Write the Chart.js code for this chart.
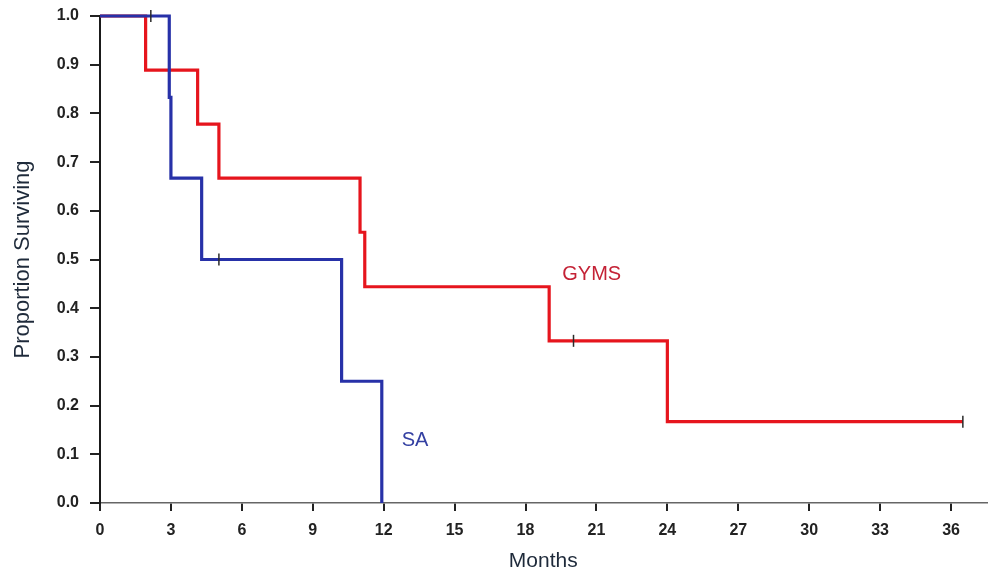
<!DOCTYPE html>
<html><head><meta charset="utf-8">
<script src="https://cdn.jsdelivr.net/npm/chart.js@4.4.1/dist/chart.umd.min.js"></script>
<style>html,body{margin:0;padding:0;background:#fff;} #wrap{width:994px;height:579px;}</style>
</head><body><div id="wrap"><canvas id="c" width="994" height="579"></canvas></div>
<script>
// ---- data ----
const gymsTimes = [0, 1.93, 4.13, 5.03, 11.0, 11.2, 19.0, 24.0, 36.5];
const gymsSurv  = [1.0, 0.889, 0.778, 0.667, 0.556, 0.444, 0.333, 0.167, 0.167];
const saTimes   = [0, 2.93, 3.0, 4.3, 10.22, 11.92];
const saSurv    = [1.0, 0.833, 0.667, 0.5, 0.25, 0.0];
const gymsCensorTimes = [20.03, 36.5];
const gymsCensorSurv  = [0.333, 0.167];
const saCensorTimes   = [2.15, 5.03];
const saCensorSurv    = [1.0, 0.5];
const xTickValues = [0, 3, 6, 9, 12, 15, 18, 21, 24, 27, 30, 33, 36];
const yTickValues = [0, 0.1, 0.2, 0.3, 0.4, 0.5, 0.6, 0.7, 0.8, 0.9, 1.0];
const seriesNames = ['GYMS', 'SA'];
const xTitle = 'Months';
const yTitle = 'Proportion Surviving';

const toPts = (t, s) => t.map((v, i) => ({x: v, y: s[i]}));
const censorPts = toPts(gymsCensorTimes, gymsCensorSurv).concat(toPts(saCensorTimes, saCensorSurv));

const RED = '#e6151d', BLUE = '#2731a8';

const seriesText = {
  id: 'seriesText',
  afterDatasetsDraw(chart, args, opts) {
    const {ctx, scales: {x, y}} = chart;
    opts.items.forEach(it => {
      ctx.save();
      ctx.font = '20px "Liberation Sans", Arial, sans-serif';
      ctx.fillStyle = it.color;
      ctx.textAlign = 'center';
      ctx.textBaseline = 'middle';
      ctx.fillText(it.text, x.getPixelForValue(it.x), y.getPixelForValue(it.y));
      ctx.restore();
    });
  }
};

new Chart(document.getElementById('c'), {
  type: 'scatter',
  data: {
    datasets: [
      {label: 'censored', data: censorPts, showLine: false, pointStyle: 'line', rotation: 90,
       pointRadius: 6, pointHoverRadius: 6, borderColor: '#2a2a2a', pointBorderWidth: 1.5, borderWidth: 1.5, clip: false, order: 0},
      {label: seriesNames[1], data: toPts(saTimes, saSurv), showLine: true, stepped: true,
       borderColor: BLUE, borderWidth: 3.2, pointRadius: 0, fill: false, clip: 4, order: 1},
      {label: seriesNames[0], data: toPts(gymsTimes, gymsSurv), showLine: true, stepped: true,
       borderColor: RED, borderWidth: 3.2, pointRadius: 0, fill: false, clip: 4, order: 2}
    ]
  },
  options: {
    responsive: false, animation: false,
    layout: {padding: {top: 16, right: 0, left: 0, bottom: 0}},
    plugins: {
      legend: {display: false}, tooltip: {enabled: false},
      seriesText: {items: [
        {text: seriesNames[0], color: '#c42236', x: 20.8, y: 0.47},
        {text: seriesNames[1], color: '#3440a2', x: 13.33, y: 0.129}
      ]}
    },
    scales: {
      x: {
        type: 'linear', min: 0, max: 37.5,
        afterBuildTicks: s => { s.ticks = xTickValues.map(v => ({value: v})); },
        afterFit: s => { s.height = 76; },
        ticks: {color: '#222', padding: 10, maxRotation: 0, autoSkip: false,
                font: {family: '"Liberation Sans", Arial, sans-serif', size: 16, weight: 'bold'}},
        grid: {drawOnChartArea: false, drawTicks: true, tickLength: 8, color: '#222', lineWidth: 2},
        border: {color: '#666', width: 1.5},
        title: {display: true, text: xTitle, color: '#1e2a3a', padding: {top: 0, bottom: 5},
                font: {family: '"Liberation Sans", Arial, sans-serif', size: 21}}
      },
      y: {
        type: 'linear', min: 0, max: 1,
        afterBuildTicks: s => { s.ticks = yTickValues.map(v => ({value: v})); },
        afterFit: s => { s.width = 100; s.paddingTop = 0; s.paddingBottom = 0; },
        ticks: {color: '#222', padding: 11, callback: v => Number(v).toFixed(1),
                font: {family: '"Liberation Sans", Arial, sans-serif', size: 16, weight: 'bold'}},
        grid: {drawOnChartArea: false, drawTicks: true, tickLength: 10, color: '#222', lineWidth: 2},
        border: {color: '#1a1a1a', width: 2},
        title: {display: true, text: yTitle, color: '#1e2a3a', padding: {top: 10, bottom: 0},
                font: {family: '"Liberation Sans", Arial, sans-serif', size: 22}}
      }
    }
  },
  plugins: [seriesText]
});
</script>
</body></html>
